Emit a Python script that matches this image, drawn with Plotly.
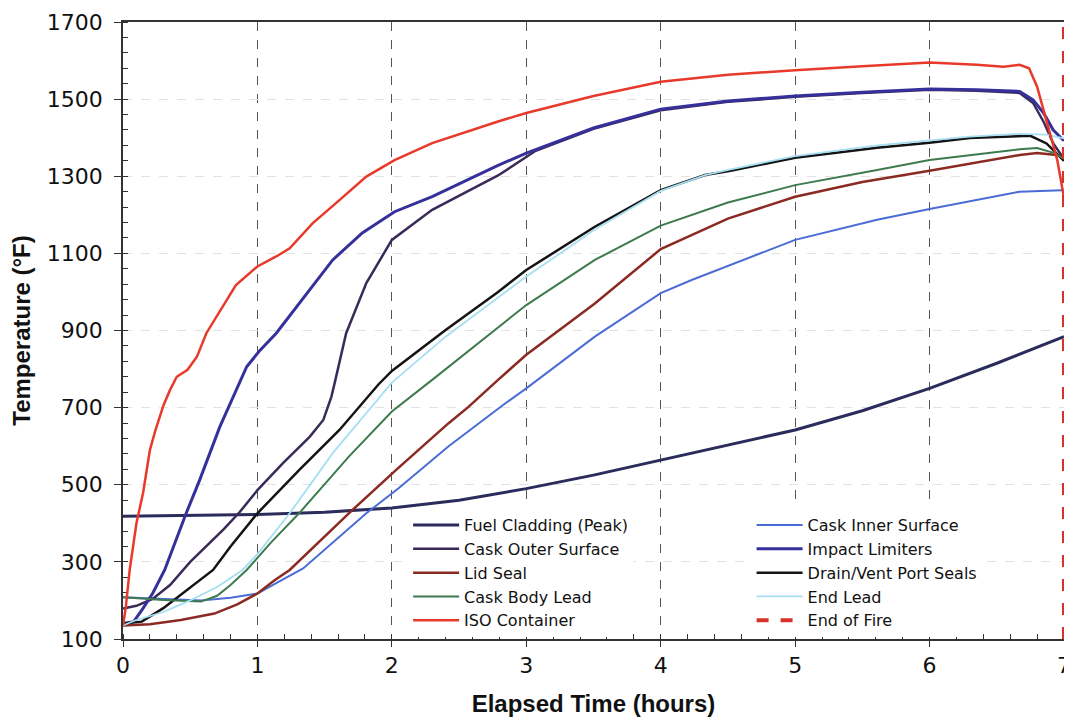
import plotly.graph_objects as go

# ---------------- data ----------------
fuel_x = [0, 0.5, 1.0, 1.5, 2.0, 2.5, 3.0, 3.5, 4.0, 4.5, 5.0, 5.5, 6.0, 6.5, 7.0]
fuel_y = [418, 420, 423, 429, 440, 460, 490, 525, 564, 602, 642, 692, 750, 815, 884]

inner_x = [0, 0.3, 0.58, 0.8, 1.0, 1.15, 1.34, 1.81, 2.05, 2.42, 2.82, 3.0, 3.51, 4.0, 4.23, 5.0, 5.61, 6.0, 6.67, 6.98, 7.0]
inner_y = [208, 203, 200, 207, 218, 247, 283, 426, 491, 599, 705, 750, 884, 997, 1031, 1135, 1187, 1215, 1260, 1264, 1264]

outer_x = [0, 0.1, 0.22, 0.35, 0.5, 0.6, 0.75, 0.87, 1.0, 1.19, 1.39, 1.49, 1.55, 1.58, 1.66, 1.81, 2.0, 2.3, 2.79, 3.07, 3.5, 4.0, 4.5, 5.0, 5.5, 6.0, 6.35, 6.67, 6.77, 6.85, 6.92, 7.0]
outer_y = [179, 186, 204, 240, 300, 335, 385, 430, 486, 556, 625, 668, 728, 772, 893, 1023, 1135, 1213, 1302, 1366, 1423, 1471, 1493, 1506, 1516, 1524, 1522, 1516, 1490, 1440, 1385, 1345]

impact_x = [0, 0.08, 0.15, 0.22, 0.31, 0.47, 0.57, 0.72, 0.92, 1.02, 1.14, 1.31, 1.56, 1.78, 2.02, 2.3, 2.79, 3.0, 3.5, 4.0, 4.5, 5.0, 5.5, 6.0, 6.35, 6.67, 6.77, 6.85, 6.92, 7.0]
impact_y = [140, 145, 180, 218, 279, 426, 512, 650, 806, 849, 893, 971, 1083, 1153, 1208, 1247, 1328, 1360, 1425, 1474, 1495, 1508, 1518, 1526, 1524, 1520, 1498, 1463, 1420, 1392]

lid_x = [0, 0.2, 0.43, 0.68, 0.85, 1.0, 1.13, 1.24, 1.68, 2.03, 2.42, 2.57, 2.79, 3.0, 3.51, 4.0, 4.5, 5.0, 5.5, 6.0, 6.67, 6.8, 7.0]
lid_y = [135, 138, 149, 166, 190, 218, 253, 279, 426, 538, 659, 702, 772, 837, 970, 1111, 1190, 1247, 1285, 1314, 1355, 1360, 1353]

drain_x = [0, 0.14, 0.3, 0.45, 0.55, 0.67, 0.8, 1.0, 1.31, 1.61, 1.9, 2.0, 2.4, 2.79, 3.0, 3.51, 4.0, 4.33, 4.52, 5.0, 5.61, 6.0, 6.3, 6.67, 6.75, 6.87, 6.97, 7.0]
drain_y = [140, 145, 180, 220, 245, 279, 340, 426, 538, 642, 760, 795, 901, 1000, 1057, 1169, 1264, 1303, 1314, 1348, 1374, 1387, 1399, 1405, 1405, 1385, 1351, 1340]

body_x = [0, 0.3, 0.58, 0.7, 0.8, 0.92, 1.1, 1.31, 1.68, 2.0, 2.3, 3.0, 3.51, 4.0, 4.5, 5.0, 5.61, 6.0, 6.67, 6.8, 6.93, 7.0]
body_y = [208, 201, 197, 212, 240, 279, 350, 426, 573, 690, 772, 966, 1083, 1172, 1232, 1277, 1316, 1342, 1370, 1373, 1360, 1345]

endlead_x = [0, 0.09, 0.3, 0.5, 0.7, 0.89, 1.0, 1.24, 1.56, 1.81, 2.0, 2.4, 3.0, 3.29, 3.5, 4.0, 4.33, 4.52, 5.0, 5.61, 6.0, 6.3, 6.67, 6.87, 7.0]
endlead_y = [135, 148, 170, 200, 235, 279, 320, 426, 582, 685, 765, 884, 1040, 1109, 1160, 1262, 1303, 1318, 1352, 1380, 1392, 1403, 1410, 1408, 1398]

iso_x = [0, 0.02, 0.05, 0.1, 0.15, 0.2, 0.24, 0.3, 0.35, 0.4, 0.48, 0.55, 0.62, 0.74, 0.84, 1.0, 1.14, 1.24, 1.41, 1.61, 1.81, 2.02, 2.3, 2.79, 3.0, 3.5, 4.0, 4.5, 5.0, 5.5, 6.0, 6.35, 6.55, 6.67, 6.74, 6.8, 6.87, 6.95, 7.0]
iso_y = [135, 180, 280, 400, 480, 590, 640, 705, 746, 780, 798, 832, 893, 962, 1018, 1066, 1092, 1113, 1178, 1238, 1299, 1342, 1386, 1442, 1464, 1508, 1545, 1563, 1575, 1585, 1595, 1589, 1584, 1589, 1580, 1532, 1446, 1342, 1244]

fire_x = [7, 7]
fire_y = [100, 1700]

x_ticks = [0, 1, 2, 3, 4, 5, 6, 7]
y_ticks = [100, 300, 500, 700, 900, 1100, 1300, 1500, 1700]

TICK_FONT = "DejaVu Sans, Liberation Sans, sans-serif"
TITLE_FONT = "Liberation Sans, Arial, sans-serif"

series = [
    # name, x, y, color, width, dash, legend
    ("Fuel Cladding (Peak)", fuel_x, fuel_y, "#2b2b5c", 3.0, "solid", "legend"),
    ("Cask Inner Surface", inner_x, inner_y, "#4a6cd4", 2.0, "solid", "legend2"),
    ("Cask Outer Surface", outer_x, outer_y, "#3a2a5a", 2.5, "solid", "legend"),
    ("Impact Limiters", impact_x, impact_y, "#35309a", 3.0, "solid", "legend2"),
    ("Lid Seal", lid_x, lid_y, "#8b2a22", 2.5, "solid", "legend"),
    ("Drain/Vent Port Seals", drain_x, drain_y, "#141414", 2.5, "solid", "legend2"),
    ("Cask Body Lead", body_x, body_y, "#3d7a4e", 2.0, "solid", "legend"),
    ("End Lead", endlead_x, endlead_y, "#a6def2", 1.8, "solid", "legend2"),
    ("ISO Container", iso_x, iso_y, "#e8392b", 2.5, "solid", "legend"),
    ("End of Fire", fire_x, fire_y, "#d9322a", 4.0, "dash", "legend2"),
]

fig = go.Figure()
for name, xs, ys, color, width, dash, leg in series:
    fig.add_trace(go.Scatter(
        x=xs, y=ys, mode="lines", name=name,
        line=dict(color=color, width=width, dash=dash),
        legend=leg,
    ))

legend_common = dict(
    font=dict(family=TICK_FONT, size=16, color="#111111"),
    bgcolor="white", borderwidth=0, itemwidth=46,
    yanchor="bottom", y=0.003, xanchor="left", tracegroupgap=0,
)

# The page body adds an 8px offset; the figure is sized to fill the rest of the window.
fig.update_layout(
    width=1064, height=712,
    template="none",
    paper_bgcolor="white", plot_bgcolor="white",
    margin=dict(l=115, r=8, t=14, b=81),
    font=dict(family=TICK_FONT, size=22, color="#111111"),
    showlegend=True,
    legend=dict(x=0.303, **legend_common),
    legend2=dict(x=0.668, **legend_common),
    xaxis=dict(
        range=[0, 7], tickvals=x_ticks, ticktext=[str(v) for v in x_ticks],
        ticks="outside", ticklen=6, tickwidth=1.2, tickcolor="#333",
        ticklabeloverflow="allow", layer="below traces",
        minor=dict(dtick=0.2, ticks="inside", ticklen=5, tickcolor="#333", showgrid=False),
        showline=True, linecolor="#333", linewidth=1.5, mirror=True,
        showgrid=True, gridcolor="#555", griddash="dash", gridwidth=1,
        zeroline=False, automargin=False,
        tickfont=dict(family=TICK_FONT, size=22, color="#111"),
        title=dict(text="<b>Elapsed Time (hours)</b>", font=dict(family=TITLE_FONT, size=24, color="#111"), standoff=18),
    ),
    yaxis=dict(
        range=[100, 1700], tickvals=y_ticks, ticktext=[str(v) for v in y_ticks],
        ticks="outside", ticklen=7, tickwidth=1.2, tickcolor="#333",
        ticklabelstandoff=7, layer="below traces",
        minor=dict(dtick=40, tick0=100, ticks="inside", ticklen=5, tickcolor="#333", showgrid=False),
        showline=True, linecolor="#333", linewidth=1.5, mirror=True,
        showgrid=True, gridcolor="#e2e2e2", griddash="dash", gridwidth=1,
        zeroline=False, automargin=False,
        tickfont=dict(family=TICK_FONT, size=22, color="#111"),
        title=dict(text="<b>Temperature (°F)</b>", font=dict(family=TITLE_FONT, size=24, color="#111"), standoff=14),
    ),
)

fig.write_html("out.html")
